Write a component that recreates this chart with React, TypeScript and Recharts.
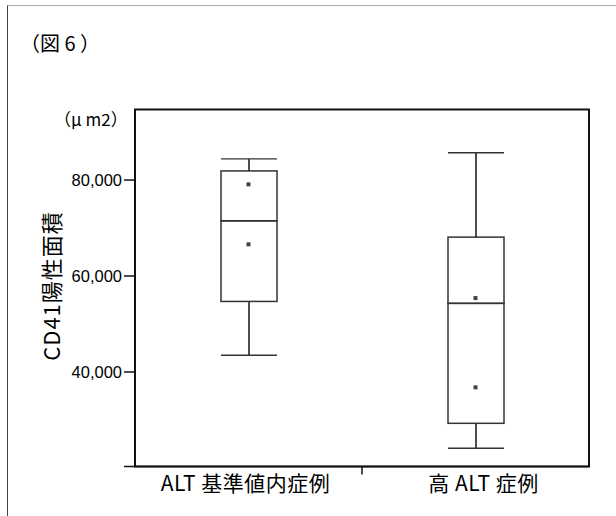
import {
  ComposedChart,
  Bar,
  Scatter,
  XAxis,
  YAxis,
  ReferenceArea,
} from "recharts";

const CATEGORIES = ["ALT 基準値内症例", "高 ALT 症例"];
const X_POS = [1, 2];
const WHISKER_LOW = [43500, 24100];
const Q1 = [54700, 29300];
const MEDIAN = [71500, 54300];
const Q3 = [81900, 68100];
const WHISKER_HIGH = [84400, 85700];
const POINT_X = [1, 1, 2, 2];
const POINT_Y = [79100, 66600, 55400, 36800];
const Y_TICKS = [40000, 60000, 80000];
const Y_DOMAIN = [20300, 94700];
const X_DOMAIN = [0.5, 2.5];

const JP = '"Noto Sans CJK JP", sans-serif';
const NUM = '"Liberation Sans", Arial, sans-serif';

// 箱ひげ図用に積み上げる
const boxData = X_POS.map((x, i) => ({
  x,
  base: WHISKER_LOW[i],
  lowW: Q1[i] - WHISKER_LOW[i],
  lowBox: MEDIAN[i] - Q1[i],
  highBox: Q3[i] - MEDIAN[i],
  highW: WHISKER_HIGH[i] - Q3[i],
}));

const pointData = POINT_X.map((x, i) => ({ x, y: POINT_Y[i] }));

const LowWhisker = (p: any) => {
  const cx = p.x + p.width / 2;
  const bottom = p.y + p.height;
  return (
    <g>
      <line x1={cx} x2={cx} y1={p.y} y2={bottom} stroke="#222" strokeWidth={1.6} />
      <line x1={p.x} x2={p.x + p.width} y1={bottom} y2={bottom} stroke="#333" strokeWidth={1.4} />
    </g>
  );
};

const HighWhisker = (p: any) => {
  const cx = p.x + p.width / 2;
  return (
    <g>
      <line x1={cx} x2={cx} y1={p.y} y2={p.y + p.height} stroke="#222" strokeWidth={1.6} />
      <line x1={p.x} x2={p.x + p.width} y1={p.y} y2={p.y} stroke="#333" strokeWidth={1.4} />
    </g>
  );
};

const BoxPart = (p: any) => (
  <rect x={p.x} y={p.y} width={p.width} height={p.height} fill="none" stroke="#333" strokeWidth={1.5} />
);

const PointMark = (p: any) => (
  <rect x={p.cx - 2} y={p.cy - 2} width={4} height={4} fill="#444" />
);

const YTick = (p: any) => {
  const v = p.payload.value;
  const showLabel = Y_TICKS.includes(v);
  return (
    <g>
      <line x1={p.x - 11} x2={p.x} y1={p.y} y2={p.y} stroke="#111" strokeWidth={1.5} />
      {showLabel && (
        <text x={p.x - 13} y={p.y} textAnchor="end" dominantBaseline="central" fontSize={16.5} fontFamily={NUM} fill="#000">
          {v.toLocaleString("en-US")}
        </text>
      )}
    </g>
  );
};

const XTick = (p: any) => {
  const v = p.payload.value;
  const idx = X_POS.indexOf(v);
  if (idx < 0) {
    return <line x1={p.x} x2={p.x} y1={p.y} y2={p.y + 8} stroke="#111" strokeWidth={1.5} />;
  }
  return (
    <text x={p.x + (idx === 1 ? 8 : -3)} y={p.y + 24} textAnchor="middle" fontSize={21} fontFamily={JP} fill="#000" letterSpacing={0.5}>
      {CATEGORIES[idx]}
    </text>
  );
};

export default function App() {
  return (
    <div style={{ position: "absolute", left: 0, top: 0, width: 616, height: 516, background: "#fff" }}>
      {/* 外枠 */}
      <div
        style={{
          position: "absolute",
          left: 7,
          top: 5,
          right: 0,
          bottom: 0,
          borderLeft: "1px solid #444",
          borderTop: "1px solid #aaa",
        }}
      />
      <ComposedChart
        width={616}
        height={516}
        data={boxData}
        margin={{ top: 109.5, right: 27, bottom: 9.5, left: 75 }}
        style={{ position: "absolute", left: 0, top: 0 }}
      >
        <ReferenceArea
          x1={X_DOMAIN[0]}
          x2={X_DOMAIN[1]}
          y1={Y_DOMAIN[0]}
          y2={Y_DOMAIN[1]}
          fill="none"
          stroke="#111"
          strokeWidth={2}
        />
        <XAxis
          dataKey="x"
          type="number"
          domain={X_DOMAIN}
          ticks={[1, 1.5, 2]}
          tick={<XTick />}
          tickLine={false}
          tickSize={0}
          tickMargin={0}
          height={40}
          axisLine={{ stroke: "#111", strokeWidth: 1.5 }}
          interval={0}
          allowDataOverflow
        />
        <YAxis
          type="number"
          domain={Y_DOMAIN}
          ticks={[Y_DOMAIN[0], ...Y_TICKS]}
          tick={<YTick />}
          tickLine={false}
          tickSize={0}
          tickMargin={0}
          width={60}
          axisLine={{ stroke: "#111", strokeWidth: 1.5 }}
          interval={0}
          allowDataOverflow
        />
        <Bar dataKey="base" stackId="box" barSize={56} fill="none" shape={() => <g />} isAnimationActive={false} />
        <Bar dataKey="lowW" stackId="box" barSize={56} shape={<LowWhisker />} isAnimationActive={false} />
        <Bar dataKey="lowBox" stackId="box" barSize={56} shape={<BoxPart />} isAnimationActive={false} />
        <Bar dataKey="highBox" stackId="box" barSize={56} shape={<BoxPart />} isAnimationActive={false} />
        <Bar dataKey="highW" stackId="box" barSize={56} shape={<HighWhisker />} isAnimationActive={false} />
        <Scatter data={pointData} dataKey="y" shape={<PointMark />} isAnimationActive={false} />
      </ComposedChart>
      <svg width={616} height={516} style={{ position: "absolute", left: 0, top: 0, pointerEvents: "none" }}>
        <text x={20} y={51} fontSize={20} fontFamily={JP} fill="#000">（図 6 ）</text>
        <text x={54} y={126} fontSize={17} fontFamily={JP} fill="#000">（μ m2）</text>
        <text
          x={50}
          y={286}
          transform="rotate(-90 50 286)"
          textAnchor="middle"
          dominantBaseline="central"
          fontSize={22}
          fontFamily={JP}
          fill="#000"
          letterSpacing={1}
        >
          CD41陽性面積
        </text>
      </svg>
    </div>
  );
}
